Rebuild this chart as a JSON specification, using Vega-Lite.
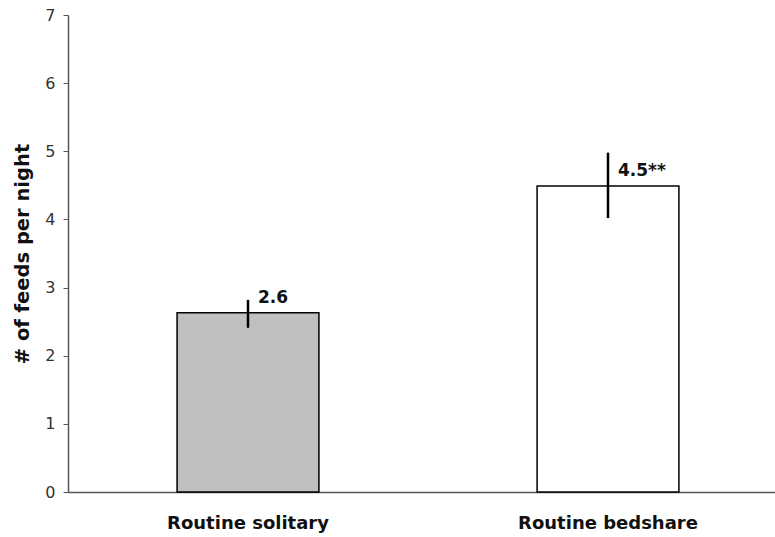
{
  "$schema": "https://vega.github.io/schema/vega-lite/v6.json",
  "autosize": "none",
  "width": 707,
  "height": 477,
  "padding": {"left": 68, "top": 15, "right": 0, "bottom": 45},
  "background": "white",
  "config": {
    "view": {"stroke": null},
    "font": "DejaVu Sans",
    "axisY": {"titleFontSize": 19.5, "titleFontWeight": "bold", "titleColor": "#111", "titlePadding": 12, "labelOverlap": false, "grid": false, "labelFontSize": 16, "labelColor": "#333", "labelPadding": 8, "tickSize": 5, "tickColor": "#555", "domainColor": "#555", "domainWidth": 1.5}
  },
  "data": {"values": [
    {"group": "Routine solitary", "mean": 2.63, "lo": 2.41, "hi": 2.82, "label": "2.6", "fill": "solitary"},
    {"group": "Routine bedshare", "mean": 4.49, "lo": 4.02, "hi": 4.98, "label": "4.5**", "fill": "bedshare"}
  ]},
  "encoding": {
    "x": {
      "field": "group", "type": "nominal", "sort": null,
      "scale": {"range": [0, 720], "paddingInner": 0.606, "paddingOuter": 0.303},
      "axis": {"title": null, "labelAngle": 0, "ticks": false, "labelPadding": 22, "labelFontSize": 18, "labelFontWeight": "bold", "labelColor": "#111", "domainColor": "#555", "domainWidth": 1.5}
    }
  },
  "layer": [
    {
      "mark": {"type": "bar", "stroke": "black", "strokeWidth": 1.5},
      "encoding": {
        "y": {"field": "mean", "type": "quantitative",
          "scale": {"domain": [0, 7], "nice": false},
          "axis": {"title": "# of feeds per night", "values": [0, 1, 2, 3, 4, 5, 6, 7]}},
        "fill": {"field": "fill", "type": "nominal", "scale": {"domain": ["solitary", "bedshare"], "range": ["#c0c0c0", "#ffffff"]}, "legend": null}
      }
    },
    {
      "mark": {"type": "rule", "color": "black", "strokeWidth": 2.5},
      "encoding": {
        "y": {"field": "lo", "type": "quantitative", "axis": {"title": "# of feeds per night", "values": [0, 1, 2, 3, 4, 5, 6, 7]}},
        "y2": {"field": "hi"}
      }
    },
    {
      "mark": {"type": "text", "align": "left", "baseline": "bottom", "dx": 10, "dy": -6, "fontSize": 17, "fontWeight": "bold", "color": "#111"},
      "encoding": {
        "y": {"field": "mean", "type": "quantitative", "axis": {"title": "# of feeds per night", "values": [0, 1, 2, 3, 4, 5, 6, 7]}},
        "text": {"field": "label"}
      }
    }
  ]
}
